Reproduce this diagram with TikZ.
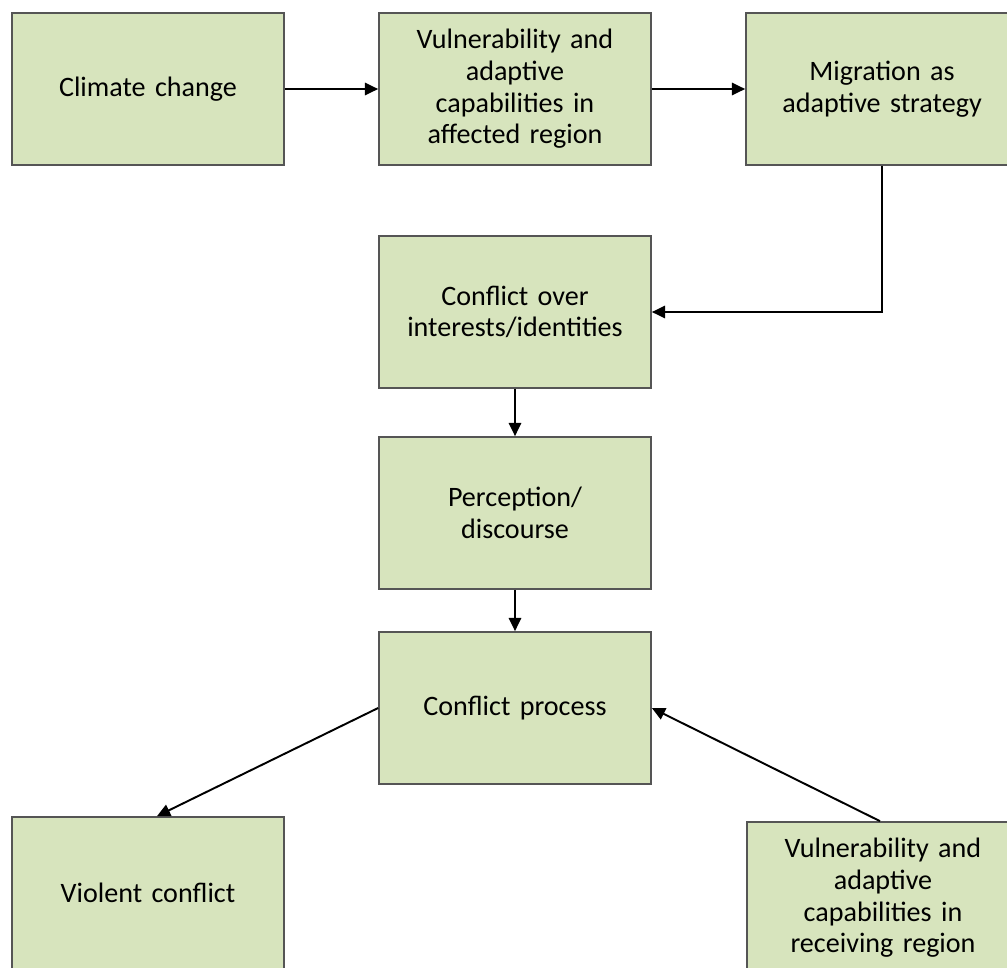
\documentclass[tikz,border=0pt]{standalone}
\usepackage{fontspec}
\setmainfont{Carlito}
\usetikzlibrary{arrows.meta}
\definecolor{boxgreen}{HTML}{D7E4BD}
\definecolor{boxline}{HTML}{555555}

\begin{document}
\begin{tikzpicture}[x=0.02cm, y=-0.02cm,
        block/.style={rectangle, draw=boxline, line width=1pt, fill=boxgreen,
            minimum width=5.44cm, minimum height=3.04cm, text width=5cm,
            align=center, inner sep=0pt, font=\fontsize{16}{18}\selectfont},
        link/.style={black, line width=1.1pt, -{Triangle[length=7.5pt, width=7pt]}}]
        \useasboundingbox (0,0) rectangle (1007,967);
        \clip (0,0) rectangle (1007,967);

        \node[block] (climate) at (148,89) {Climate change};
        \node[block] (vulnaff) at (515,89) {Vulnerability and\\adaptive\\capabilities in\\affected region};
        \node[block] (migr) at (882,89) {Migration as\\adaptive strategy};
        \node[block] (interest) at (515,312) {Conflict over\\interests/identities};
        \node[block] (percept) at (515,513) {Perception/\\discourse};
        \node[block] (process) at (515,708) {Conflict process};
        \node[block] (violent) at (148,893) {Violent conflict};
        \node[block] (vulnrec) at (883,898) {Vulnerability and\\adaptive\\capabilities in\\receiving region};

        \draw[link] (climate) -- (vulnaff);
        \draw[link] (vulnaff) -- (migr);
        \draw[link] (migr.south) |- (interest.east);
        \draw[link] (interest) -- (percept);
        \draw[link] (percept) -- (process);
        \draw[link] (process.west) -- ([xshift=0.18cm]violent.north);
        \draw[link] ([xshift=-0.06cm]vulnrec.north) -- (process.east);
    \end{tikzpicture}
\end{document}
